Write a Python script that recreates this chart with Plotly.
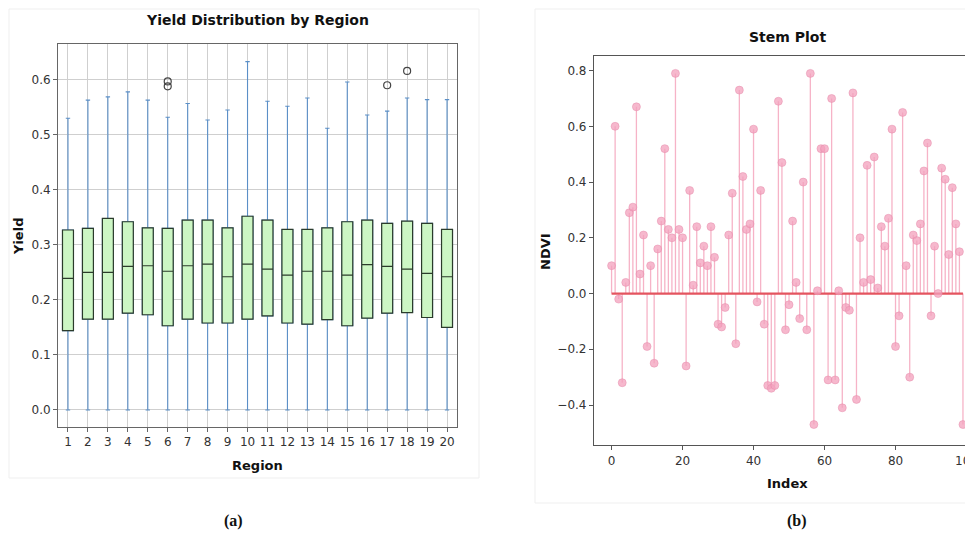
import plotly.graph_objects as go

# ---------------- data: left panel (box plot) ----------------
regions = list(range(1, 21))
q1 = [0.144, 0.165, 0.165, 0.176, 0.173, 0.153, 0.165, 0.158, 0.158, 0.165,
      0.171, 0.158, 0.156, 0.164, 0.153, 0.167, 0.176, 0.177, 0.168, 0.150]
median = [0.239, 0.250, 0.250, 0.261, 0.262, 0.252, 0.262, 0.265, 0.242, 0.265,
          0.256, 0.245, 0.252, 0.252, 0.245, 0.264, 0.261, 0.256, 0.248, 0.242]
q3 = [0.327, 0.330, 0.348, 0.342, 0.331, 0.330, 0.345, 0.345, 0.331, 0.352,
      0.345, 0.328, 0.328, 0.331, 0.342, 0.345, 0.339, 0.343, 0.339, 0.328]
lower_whisker = [0.0] * 20
upper_whisker = [0.530, 0.563, 0.569, 0.578, 0.563, 0.532, 0.557, 0.527, 0.545, 0.633,
                 0.561, 0.552, 0.567, 0.512, 0.596, 0.536, 0.543, 0.567, 0.564, 0.564]
outlier_region = [6, 6, 17, 18]
outlier_value = [0.588, 0.597, 0.590, 0.616]
y_ticks_left = [0.0, 0.1, 0.2, 0.3, 0.4, 0.5, 0.6]

# ---------------- data: right panel (stem plot) ----------------
ndvi = [0.10, 0.60, -0.02, -0.32, 0.04, 0.29, 0.31, 0.67, 0.07, 0.21,
        -0.19, 0.10, -0.25, 0.16, 0.26, 0.52, 0.23, 0.20, 0.79, 0.23,
        0.20, -0.26, 0.37, 0.03, 0.24, 0.11, 0.17, 0.10, 0.24, 0.13,
        -0.11, -0.12, -0.05, 0.21, 0.36, -0.18, 0.73, 0.42, 0.23, 0.25,
        0.59, -0.03, 0.37, -0.11, -0.33, -0.34, -0.33, 0.69, 0.47, -0.13,
        -0.04, 0.26, 0.04, -0.09, 0.40, -0.13, 0.79, -0.47, 0.01, 0.52,
        0.52, -0.31, 0.70, -0.31, 0.01, -0.41, -0.05, -0.06, 0.72, -0.38,
        0.20, 0.04, 0.46, 0.05, 0.49, 0.02, 0.24, 0.17, 0.27, 0.59,
        -0.19, -0.08, 0.65, 0.10, -0.30, 0.21, 0.19, 0.25, 0.44, 0.54,
        -0.08, 0.17, 0.00, 0.45, 0.41, 0.14, 0.38, 0.25, 0.15, -0.47]
index = list(range(len(ndvi)))
x_ticks_right = [0, 20, 40, 60, 80, 100]
y_ticks_right = [-0.4, -0.2, 0.0, 0.2, 0.4, 0.6, 0.8]

# the page body has an 8px margin, so the figure is 8px smaller and offset
OFF = 8
W, H = 973 - OFF, 535 - OFF
FONT = "DejaVu Sans"

def px(x):
    return (x - OFF) / W

def py(y):
    return 1 - (y - OFF) / H

fig = go.Figure()

# whiskers (blue) - full five-number summary
fig.add_trace(go.Box(
    x=regions, q1=q1, median=median, q3=q3,
    lowerfence=lower_whisker, upperfence=upper_whisker,
    width=0.55, whiskerwidth=0.4,
    line=dict(color="#5b8fc7", width=1.1),
    fillcolor="rgba(0,0,0,0)", boxpoints=False,
    showlegend=False, xaxis="x", yaxis="y", hoverinfo="skip"))

# boxes (green fill, dark edge) on top
fig.add_trace(go.Box(
    x=regions, q1=q1, median=median, q3=q3,
    lowerfence=q1, upperfence=q3,
    width=0.55, whiskerwidth=0,
    line=dict(color="#2b3b2b", width=1.2),
    fillcolor="#ccf6c4", boxpoints=False,
    showlegend=False, xaxis="x", yaxis="y"))

# outliers
fig.add_trace(go.Scatter(
    x=outlier_region, y=outlier_value, mode="markers",
    marker=dict(symbol="circle-open", size=7, color="#444", line=dict(width=1.2)),
    showlegend=False, xaxis="x", yaxis="y"))

# stems
sx, sy = [], []
for i, v in zip(index, ndvi):
    sx += [i, i, None]
    sy += [0, v, None]
fig.add_trace(go.Scatter(
    x=sx, y=sy, mode="lines",
    line=dict(color="#f6b3c7", width=1.3),
    showlegend=False, xaxis="x2", yaxis="y2", hoverinfo="skip"))

# baseline
fig.add_trace(go.Scatter(
    x=[min(index), max(index)], y=[0, 0], mode="lines",
    line=dict(color="#e4545f", width=2.2),
    showlegend=False, xaxis="x2", yaxis="y2"))

# stem heads
fig.add_trace(go.Scatter(
    x=index, y=ndvi, mode="markers",
    marker=dict(size=8, color="rgba(243,160,188,0.75)",
                line=dict(color="rgba(230,140,170,0.8)", width=0.6)),
    showlegend=False, xaxis="x2", yaxis="y2"))

tickfont = dict(family=FONT, size=12, color="#333")

fig.update_layout(
    width=W, height=H,
    margin=dict(l=0, r=0, t=0, b=0),
    paper_bgcolor="white", plot_bgcolor="white",
    font=dict(family=FONT),
    boxmode="overlay",
    xaxis=dict(domain=[px(58), px(457)], range=[0.5, 20.5],
               tickvals=regions, ticktext=[str(r) for r in regions],
               showgrid=True, gridcolor="#cfcfcf", gridwidth=1,
               showline=True, mirror=True, linecolor="#666", linewidth=1,
               ticks="outside", ticklen=4, tickcolor="#666",
               tickfont=tickfont, zeroline=False, automargin=False,
               anchor="y"),
    yaxis=dict(domain=[py(427), py(44)], range=[-0.031, 0.665],
               tickvals=y_ticks_left, ticktext=[f"{t:.1f}" for t in y_ticks_left],
               showgrid=True, gridcolor="#cfcfcf", gridwidth=1,
               showline=True, mirror=True, linecolor="#666", linewidth=1,
               ticks="outside", ticklen=4, tickcolor="#666",
               tickfont=tickfont, zeroline=False, automargin=False,
               anchor="x"),
    xaxis2=dict(domain=[px(594), 1.0], range=[-4.95, 101.83],
                tickvals=x_ticks_right, ticktext=[str(t) for t in x_ticks_right],
                showgrid=False, showline=True, mirror=True, linecolor="#555", linewidth=1.2,
                ticks="outside", ticklen=4, tickcolor="#555",
                tickfont=tickfont, zeroline=False, automargin=False,
                ticklabeloverflow="allow",
                anchor="y2"),
    yaxis2=dict(domain=[py(445), py(55.7)], range=[-0.5435, 0.8535],
                tickvals=y_ticks_right,
                ticktext=[f"{t:.1f}".replace("-", "\u2212") for t in y_ticks_right],
                showgrid=False, showline=True, mirror=False, linecolor="#555", linewidth=1.2,
                ticks="outside", ticklen=4, tickcolor="#555",
                tickfont=tickfont, zeroline=False, automargin=False,
                anchor="x2"),
)

def ann(text, x, y, size=13, bold=True, angle=0, family=FONT, color="#111"):
    fig.add_annotation(text=f"<b>{text}</b>" if bold else text,
                       x=px(x), y=py(y), xref="paper", yref="paper",
                       showarrow=False, textangle=angle,
                       xanchor="center", yanchor="middle",
                       font=dict(family=family, size=size, color=color))

ann("Yield Distribution by Region", 257.5, 20, size=14)
ann("Yield", 18, 237, size=13, angle=-90)
ann("Region", 257.5, 465, size=13)
ann("Stem Plot", 787, 37, size=14)
ann("NDVI", 545, 252, size=13, angle=-90)
ann("Index", 787, 483, size=13)
ann("(a)", 233, 521, size=16, family="Liberation Serif")
ann("(b)", 797, 521, size=16, family="Liberation Serif")

# faint panel frames
fig.add_shape(type="rect", xref="paper", yref="paper",
              x0=px(9), x1=px(479), y0=py(478), y1=py(9),
              line=dict(color="#efefef", width=1), layer="below")
fig.add_shape(type="rect", xref="paper", yref="paper",
              x0=px(535), x1=px(972), y0=py(503), y1=py(9),
              line=dict(color="#efefef", width=1), layer="below")

fig.write_html("out.html")
